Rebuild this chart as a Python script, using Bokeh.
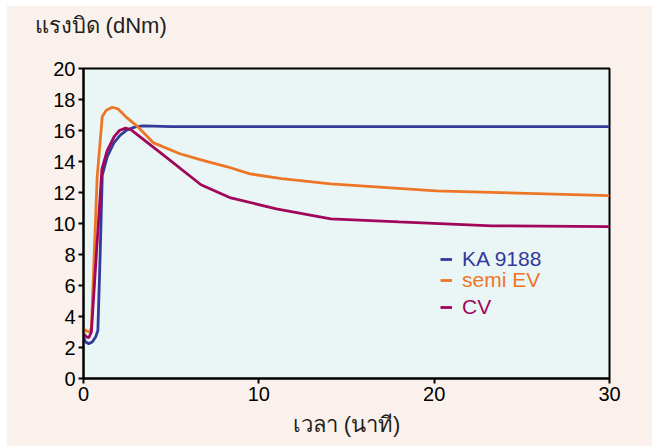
from bokeh.plotting import figure
from bokeh.models import Legend, LegendItem, Range1d, FixedTicker, Title
from bokeh.embed import file_html
from bokeh.resources import INLINE

# ---- data ----
time_ka = [0, 0.12, 0.3, 0.5, 0.7, 0.82, 0.95, 1.07, 1.35, 1.73, 2.1, 2.5, 3.0, 3.4, 5, 30]
torque_ka = [2.65, 2.35, 2.25, 2.35, 2.7, 3.1, 8.0, 13.1, 14.3, 15.2, 15.7, 16.05, 16.25, 16.3, 16.25, 16.25]

time_semi = [0, 0.2, 0.36, 0.45, 0.78, 1.07, 1.3, 1.64, 1.96, 2.4, 3.07, 4.0, 5.5, 6.7, 8.2, 9.5, 11.3, 14.1, 20.1, 30]
torque_semi = [3.2, 3.05, 3.0, 3.3, 13.0, 16.9, 17.3, 17.5, 17.4, 16.9, 16.27, 15.2, 14.5, 14.1, 13.66, 13.2, 12.9, 12.56, 12.1, 11.8]

time_cv = [0, 0.15, 0.3, 0.45, 0.75, 1.05, 1.35, 1.75, 2.05, 2.4, 2.7, 4.4, 6.7, 8.4, 11.0, 14.1, 18, 23.3, 30]
torque_cv = [2.9, 2.7, 2.63, 3.0, 8.3, 13.5, 14.7, 15.6, 16.0, 16.15, 16.05, 14.56, 12.5, 11.65, 10.95, 10.3, 10.1, 9.85, 9.8]

series_names = ["KA 9188", "semi EV", "CV"]
series_colors = ["#333A9A", "#EC7626", "#A0075A"]
x_ticks = [0, 10, 20, 30]
y_ticks = [0, 2, 4, 6, 8, 10, 12, 14, 16, 18, 20]
y_title = "แรงบิด (dNm)"
x_title = "เวลา (นาที)"

BG = "#FBF1EC"
PLOT_BG = "#EAF6F6"
FONT = "'Liberation Sans', 'Noto Sans', sans-serif"

p = figure(width=646, height=441, output_backend="svg", toolbar_location=None,
           x_range=Range1d(0, 30), y_range=Range1d(0, 20),
           min_border_left=77, min_border_right=43, min_border_top=63, min_border_bottom=68)
p.margin = (5, 0, 1, 6)
p.border_fill_color = BG
p.background_fill_color = PLOT_BG
p.outline_line_color = "black"
p.outline_line_width = 2
p.grid.visible = False

# spacer between frame and the title (pushes the title up)
p.add_layout(Title(text="\u00a0", text_font=FONT, text_font_size="21px", standoff=4), "above")

p.title.text = y_title
p.title.align = "left"
p.title.offset = -49
p.title.standoff = 0
p.title.vertical_align = "top"
p.title.text_font = FONT
p.title.text_font_size = "22px"
p.title.text_font_style = "normal"
p.title.text_color = "#231F20"

for ax in (p.xaxis[0], p.yaxis[0]):
    ax.axis_line_color = "black"
    ax.axis_line_width = 2
    ax.major_tick_line_color = "black"
    ax.major_tick_line_width = 2
    ax.major_tick_in = 0
    ax.major_tick_out = 5
    ax.minor_tick_line_color = None
    ax.major_label_text_font = FONT
    ax.major_label_text_font_size = "20px"
    ax.major_label_text_color = "black"
    ax.major_label_standoff = 3

p.xaxis.ticker = FixedTicker(ticks=x_ticks)
p.yaxis.ticker = FixedTicker(ticks=y_ticks)
p.xaxis.axis_label = x_title
p.xaxis.axis_label_text_font = FONT
p.xaxis.axis_label_text_font_size = "22px"
p.xaxis.axis_label_text_font_style = "normal"
p.xaxis.axis_label_text_color = "#231F20"
p.xaxis.axis_label_standoff = 8

r_ka = p.line(time_ka, torque_ka, line_color=series_colors[0], line_width=2.8)
r_semi = p.line(time_semi, torque_semi, line_color=series_colors[1], line_width=2.8)
r_cv = p.line(time_cv, torque_cv, line_color=series_colors[2], line_width=2.8)

renderers = [r_ka, r_semi, r_cv]
legend_y = [107, 86, 59]
for name, col, r, ly in zip(series_names, series_colors, renderers, legend_y):
    lg = Legend(items=[LegendItem(label=name, renderers=[r])], location=(357, ly),
                glyph_width=12, glyph_height=20, label_height=20, label_standoff=10,
                padding=0, spacing=0, margin=0, border_line_alpha=0,
                background_fill_alpha=0, label_text_font=FONT,
                label_text_font_size="21px", label_text_color=col)
    p.add_layout(lg, "center")

open("out.html", "w").write(file_html(p, INLINE))
